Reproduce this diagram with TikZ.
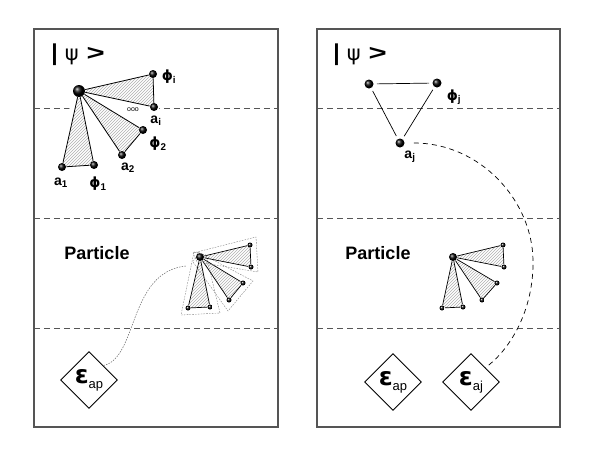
\documentclass[tikz,border=0pt]{standalone}
\usepackage{graphicx}
\usepackage{fontspec}
\setmainfont{Liberation Sans}
\newfontfamily\grk{DejaVu Sans}
\usetikzlibrary{calc,patterns,shapes.geometric,backgrounds}
\definecolor{boxline}{HTML}{555555}
\definecolor{hatch}{HTML}{B0B0B0}
\newcommand{\subA}[1]{a\textsubscript{#1}}
\newcommand{\subF}[1]{{\grk ϕ}\textsubscript{#1}}
\newcommand{\epsL}[1]{{\grk\bfseries\fontsize{25}{25}\selectfont ε}\raisebox{-1.0ex}{\fontsize{13}{13}\selectfont #1}}
\newcommand{\ketPsi}{{\fontsize{23}{23}\selectfont\textbf{|}\hspace{7pt}{\grk\fontsize{21}{21}\selectfont ψ}\hspace{8pt}\scalebox{1.35}[0.95]{\textbf{>}}}}

\begin{document}
\begin{tikzpicture}[x=1pt,y=-1pt,line width=0.8pt,
  ball/.style={circle,shading=ball,ball color=black,inner sep=0pt,minimum size=#1},
  ball/.default=8pt,
  tri/.style={pattern=north east lines,pattern color=hatch},
  lbl/.style={font=\bfseries\fontsize{14}{14}\selectfont,inner sep=0pt},
  energy/.style={diamond,draw,line width=0.9pt,aspect=1,minimum size=57pt,inner sep=0pt},
  cut/.style={boxline,dash pattern=on 6pt off 4pt,line width=0.9pt},
  shell/.style={gray,dash pattern=on 1.6pt off 1.2pt,line width=0.4pt}]
\useasboundingbox (0,0) rectangle (595,466);
\begin{scope}[on background layer]
\draw[boxline,line width=1.2pt] (34,29) rectangle (278,427);
\draw[boxline,line width=1.2pt] (317,29) rectangle (560,427);
\foreach \y in {108,218,328}{
  \draw[cut] (34,\y) -- (278,\y);
  \draw[cut] (317,\y) -- (560,\y);
}
\end{scope}
% left panel, |psi>
\node[anchor=west,inner sep=0pt] (psiL) at (51,55) {\ketPsi};
\node[ball=12pt] (cL) at (79,91) {};
\node[ball] (phiI) at (153,74) {};
\node[ball] (aI) at (154,107) {};
\node[ball] (phiTwo) at (143,130) {};
\node[ball] (aTwo) at (122,155) {};
\node[ball] (aOne) at (62,167) {};
\node[ball] (phiOne) at (94,165) {};
\begin{scope}[on background layer]
\filldraw[white,line width=11pt,line join=round] (cL.center) -- (phiI.center) -- (aI.center)
  -- (phiTwo.center) -- (aTwo.center) -- (phiOne.center) -- (aOne.center) -- cycle;
\fill[tri] (cL.center) -- (phiI.center) -- (aI.center) -- cycle;
\fill[tri] (cL.center) -- (phiTwo.center) -- (aTwo.center) -- cycle;
\fill[tri] (cL.center) -- (aOne.center) -- (phiOne.center) -- cycle;
\end{scope}
\draw (cL) -- (phiI) -- (aI) -- (cL);
\draw (cL) -- (phiTwo) -- (aTwo) -- (cL);
\draw (cL) -- (aOne) -- (phiOne) -- (cL);
\node[lbl] (tPhiI) at (169,77) {\subF{i}};
\node[lbl] (tAI) at (156,121) {\subA{i}};
\node[lbl] (tPhiTwo) at (158,144) {\subF{2}};
\node[lbl] (tATwo) at (128,168) {\subA{2}};
\node[lbl] (tAOne) at (61,183) {\subA{1}};
\node[lbl] (tPhiOne) at (98,184) {\subF{1}};
\node[font=\fontsize{7}{7}\selectfont,inner sep=0pt] (dots) at (133,110) {ooo};
\node[font=\bfseries\fontsize{18}{18}\selectfont] (partL) at (97,253) {Particle};
% left panel, particle fan
\node[ball=8pt] (pc) at (200,257) {};
\node[ball=5pt] (ppi) at (250,245) {};
\node[ball=5pt] (pai) at (251,267) {};
\node[ball=5pt] (pp2) at (243,283) {};
\node[ball=5pt] (pa2) at (229,300) {};
\node[ball=5pt] (pa1) at (188,308) {};
\node[ball=5pt] (pp1) at (210,307) {};
\begin{scope}[on background layer]
\fill[tri] (pc.center) -- (ppi.center) -- (pai.center) -- cycle;
\fill[tri] (pc.center) -- (pp2.center) -- (pa2.center) -- cycle;
\fill[tri] (pc.center) -- (pa1.center) -- (pp1.center) -- cycle;
\end{scope}
\draw[line width=0.7pt] (pc) -- (ppi) -- (pai) -- (pc);
\draw[line width=0.7pt] (pc) -- (pp2) -- (pa2) -- (pc);
\draw[line width=0.7pt] (pc) -- (pa1) -- (pp1) -- (pc);
\draw[shell] (193,253) -- (256,237) -- (258,272) -- (197,262) -- cycle;
\draw[shell] (198,252) -- (253,281) -- (228,311) -- (193,262) -- cycle;
\draw[shell] (194,252) -- (181,315) -- (220,313) -- (206,255) -- cycle;
\node[energy] (eapL) at (89,380) {\epsL{ap}};
\coordinate (pin) at (186,266);
\draw[gray!80!black,dash pattern=on 1.5pt off 1.2pt,line width=0.5pt]
  (eapL.north east) .. controls (138,358) and (128,272) .. (pin);
% right panel, |psi>
\node[anchor=west,inner sep=0pt] (psiR) at (333,55) {\ketPsi};
\node[ball=9pt] (bJ) at (369,84) {};
\node[ball=9pt] (phiJ) at (437,83) {};
\node[ball=9pt] (aJ) at (400,143) {};
\draw[line width=0.7pt,shorten <=3pt,shorten >=3pt] (bJ) -- (phiJ);
\draw[line width=0.7pt,shorten <=3pt,shorten >=3pt] (phiJ) -- (aJ);
\draw[line width=0.7pt,shorten <=3pt,shorten >=3pt] (aJ) -- (bJ);
\node[lbl] (tPhiJ) at (454,97) {\subF{j}};
\node[lbl] (tAJ) at (410,157) {\subA{j}};
\node[font=\bfseries\fontsize{18}{18}\selectfont] (partR) at (378,253) {Particle};
% right panel, particle fan
\node[ball=8pt] (qc) at (453,257) {};
\node[ball=5pt] (qpi) at (503,245) {};
\node[ball=5pt] (qai) at (504,267) {};
\node[ball=5pt] (qp2) at (497,283) {};
\node[ball=5pt] (qa2) at (482,300) {};
\node[ball=5pt] (qa1) at (442,308) {};
\node[ball=5pt] (qp1) at (463,307) {};
\begin{scope}[on background layer]
\fill[tri] (qc.center) -- (qpi.center) -- (qai.center) -- cycle;
\fill[tri] (qc.center) -- (qp2.center) -- (qa2.center) -- cycle;
\fill[tri] (qc.center) -- (qa1.center) -- (qp1.center) -- cycle;
\end{scope}
\draw[line width=0.7pt] (qc) -- (qpi) -- (qai) -- (qc);
\draw[line width=0.7pt] (qc) -- (qp2) -- (qa2) -- (qc);
\draw[line width=0.7pt] (qc) -- (qa1) -- (qp1) -- (qc);
\node[energy] (eapR) at (393,382) {\epsL{ap}};
\node[energy] (eajR) at (471,382) {\epsL{aj}};
\draw[dash pattern=on 5pt off 4pt,line width=0.7pt]
  ([xshift=9pt]aJ.east) .. controls (480,143) and (532,200) .. (533,260)
  .. controls (534,310) and (510,350) .. (eajR.north east);
\end{tikzpicture}
\end{document}
